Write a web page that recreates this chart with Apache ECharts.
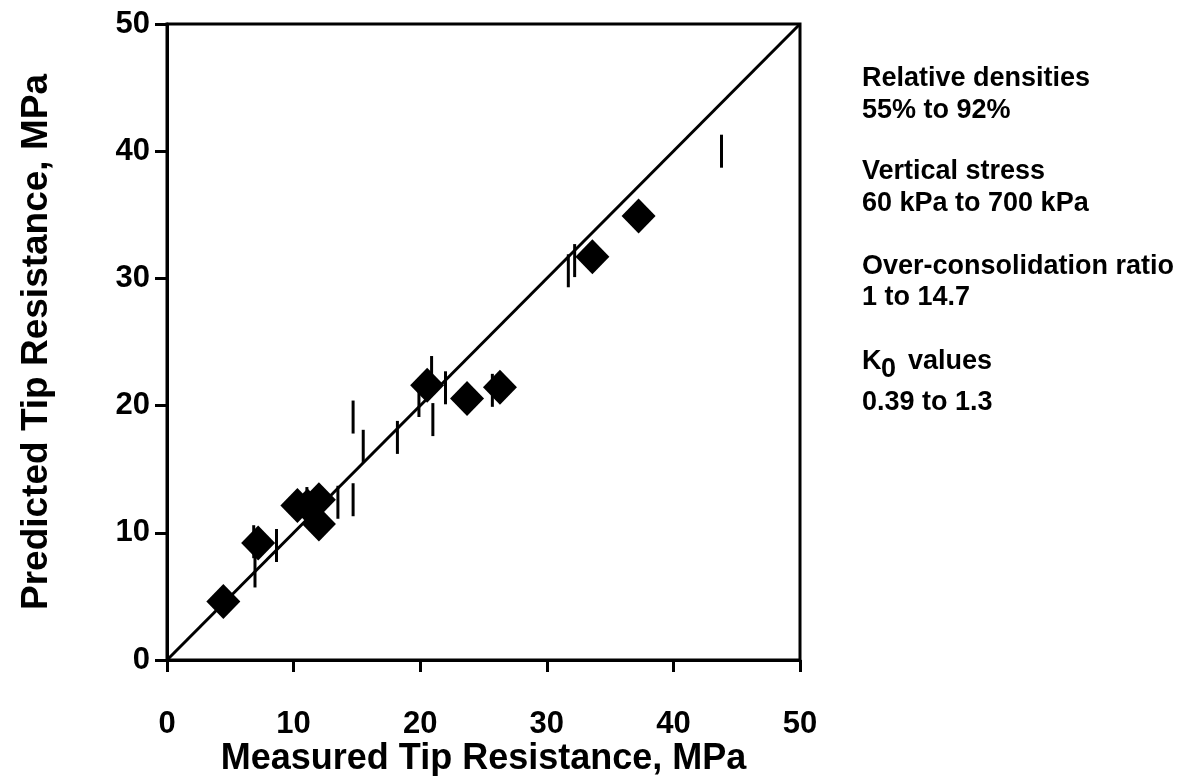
<!DOCTYPE html>
<html>
<head>
<meta charset="utf-8">
<script src="https://cdn.jsdelivr.net/npm/echarts@6/dist/echarts.min.js"></script>
<style>
html,body{margin:0;padding:0;background:#fff;}
#c{width:1201px;height:776px;}
</style>
</head>
<body>
<div id="c"></div>
<script>
// Measured vs predicted tip resistance (MPa)
const diamondX = [4.45, 7.2, 10.3, 11.1, 12.0, 12.0, 20.55, 23.7, 26.3, 33.6, 37.25];
const diamondY = [4.6, 9.2, 12.15, 12.1, 12.6, 10.7, 21.6, 20.55, 21.45, 31.7, 34.9];
const barX = [6.85, 6.95, 8.65, 11.05, 13.5, 14.7, 14.7, 15.5, 18.2, 19.9, 20.9, 21.0, 22.0, 25.7, 31.7, 32.2, 43.8];
const barY = [9.3, 7.0, 9.0, 12.3, 12.4, 12.6, 19.1, 16.8, 17.5, 20.4, 22.6, 18.9, 21.4, 21.2, 30.6, 31.4, 40.0];
const lineX = [0, 50];
const lineY = [0, 50];
const xTicks = [0, 10, 20, 30, 40, 50];
const yTicks = [0, 10, 20, 30, 40, 50];
const noteLines = ['Relative densities', '55% to 92%', 'Vertical stress', '60 kPa to 700 kPa',
  'Over-consolidation ratio', '1 to 14.7', 'K0 values', '0.39 to 1.3'];

const FONT = '"Liberation Sans", Arial, Helvetica, sans-serif';
const chart = echarts.init(document.getElementById('c'), null, {renderer: 'canvas'});

const zip = (a, b) => a.map((v, i) => [v, b[i]]);

const noteX = 862;
const lineCenters = [79, 111, 172, 204, 267, 298, 362, 403];
const noteElems = [];
const tf = 'bold 27px ' + FONT;
noteLines.forEach((t, i) => {
  const cy = lineCenters[i];
  if (t === 'K0 values') {
    noteElems.push({type: 'text', x: noteX, y: cy, style: {text: 'K', font: tf, fill: '#000', verticalAlign: 'middle'}});
    noteElems.push({type: 'text', x: noteX + 19, y: cy + 8, style: {text: '0', font: tf, fill: '#000', verticalAlign: 'middle'}});
    noteElems.push({type: 'text', x: noteX + 46, y: cy, style: {text: 'values', font: tf, fill: '#000', verticalAlign: 'middle'}});
  } else {
    noteElems.push({type: 'text', x: noteX, y: cy, style: {text: t, font: tf, fill: '#000', verticalAlign: 'middle'}});
  }
});

chart.setOption({
  animation: false,
  backgroundColor: '#fff',
  grid: {left: 167, top: 24, width: 633, height: 636, containLabel: false, outerBoundsMode: 'none',
    show: true, borderColor: '#000', borderWidth: 3, backgroundColor: 'transparent'},
  xAxis: {
    type: 'value', min: xTicks[0], max: xTicks[xTicks.length - 1], interval: 10,
    name: 'Measured Tip Resistance, MPa', nameLocation: 'middle', nameGap: 81, nameMoveOverlap: false,
    nameTextStyle: {fontFamily: FONT, fontWeight: 'bold', fontSize: 36, color: '#000'},
    axisLine: {show: true, onZero: false, lineStyle: {color: '#000', width: 3}},
    axisTick: {show: true, inside: false, length: 12, lineStyle: {color: '#000', width: 3}},
    axisLabel: {fontFamily: FONT, fontWeight: 'bold', fontSize: 31, color: '#000', margin: 49},
    splitLine: {show: false}
  },
  yAxis: {
    type: 'value', min: yTicks[0], max: yTicks[yTicks.length - 1], interval: 10,
    name: 'Predicted Tip Resistance, MPa', nameLocation: 'middle', nameGap: 112, nameMoveOverlap: false,
    nameTextStyle: {fontFamily: FONT, fontWeight: 'bold', fontSize: 37, color: '#000'},
    axisLine: {show: true, onZero: false, lineStyle: {color: '#000', width: 3}},
    axisTick: {show: true, inside: false, length: 12, lineStyle: {color: '#000', width: 3}},
    axisLabel: {fontFamily: FONT, fontWeight: 'bold', fontSize: 31, color: '#000', margin: 17},
    splitLine: {show: false}
  },
  series: [
    {
      type: 'line', data: zip(lineX, lineY), symbol: 'none', silent: true,
      lineStyle: {color: '#000', width: 3}, z: 2
    },
    {
      type: 'scatter', data: zip(barX, barY), symbol: 'rect', symbolSize: [3, 33],
      itemStyle: {color: '#000', opacity: 1}, z: 3
    },
    {
      type: 'scatter', data: zip(diamondX, diamondY), symbol: 'diamond', symbolSize: [34, 35],
      itemStyle: {color: '#000', opacity: 1}, z: 4
    }
  ],
  graphic: noteElems
});
</script>
</body>
</html>
